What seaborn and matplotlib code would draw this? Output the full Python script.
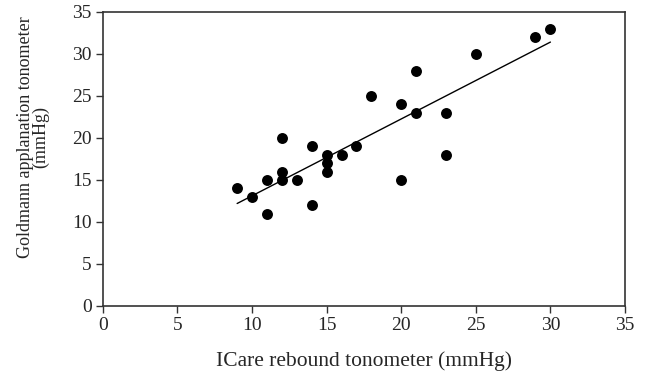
import matplotlib
matplotlib.use("Agg")
import matplotlib.pyplot as plt
import numpy as np
import pandas as pd
import seaborn as sns

# ICare rebound vs Goldmann applanation readings (mmHg)
icare = [9, 10, 11, 11, 12, 12, 12, 13, 14, 14, 15, 15, 15, 16, 17, 18,
         20, 20, 21, 21, 23, 23, 25, 29, 30]
goldmann = [14, 13, 15, 11, 20, 16, 15, 15, 19, 12, 18, 17, 16, 18, 19, 25,
            24, 15, 28, 23, 23, 18, 30, 32, 33]
ticks = [0, 5, 10, 15, 20, 25, 30, 35]

df = pd.DataFrame({"icare": icare, "goldmann": goldmann})

sns.set_style("white")
plt.rcParams["font.family"] = ["Liberation Serif", "DejaVu Serif"]

fig = plt.figure(figsize=(6.47, 3.75), dpi=100)
ax = fig.add_axes([0.159, 0.184, 0.807, 0.784])

sns.regplot(
    data=df, x="icare", y="goldmann", ax=ax, ci=None, truncate=True,
    scatter_kws={"s": 62, "color": "black", "alpha": 1, "linewidths": 0},
    line_kws={"color": "black", "linewidth": 1.0},
)

ax.set_xlim(0, 35)
ax.set_ylim(0, 35)
ax.set_xticks(ticks)
ax.set_yticks(ticks)
ax.tick_params(axis="both", direction="out", length=5, width=1, color="#333333",
               labelsize=14, pad=3, bottom=True, left=True)
for sp in ax.spines.values():
    sp.set_color("#333333")
    sp.set_linewidth(1.2)

ax.set_xlabel("ICare rebound tonometer (mmHg)", fontsize=15.5, labelpad=12)
ax.set_ylabel("Goldmann applanation tonometer\n(mmHg)", fontsize=13,
              linespacing=0.8)
ax.yaxis.set_label_coords(-0.103, 0.575)

fig.savefig("out.png", dpi=100)
plt.close(fig)
